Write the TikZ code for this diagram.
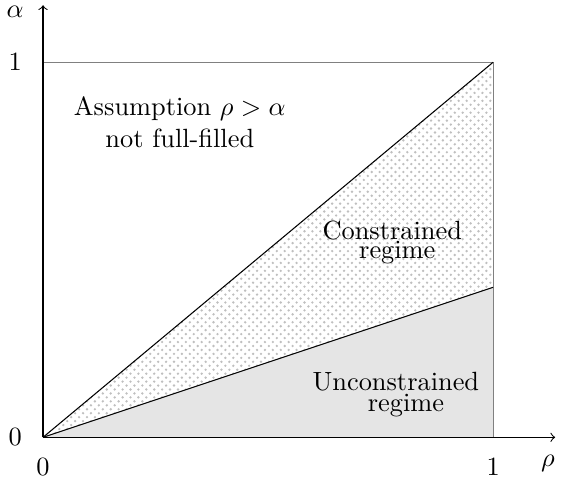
\documentclass[tikz,border=0pt]{standalone}
\usetikzlibrary{patterns}
\begin{document}
\begin{tikzpicture}[x=6cm,y=5cm]
\useasboundingbox (-0.0956,-0.115) rectangle (1.162,1.166);
\coordinate (O) at (0,0);
\coordinate (A) at (1,0.4);
\coordinate (B) at (1,1);
\coordinate (C) at (0,1);
\coordinate (D) at (1,0);
\coordinate (xend) at (1.138,0);
\coordinate (yend) at (0,1.152);
\fill[gray!20] (O) -- (A) -- (D) -- cycle;
\fill[pattern=crosshatch dots,pattern color=gray!50] (O) -- (B) -- (A) -- cycle;
\draw[gray] (C) -- (B) -- (D);
\draw (O) -- (B);
\draw (O) -- (A);
\draw[->] (O) -- (xend);
\draw[->] (O) -- (yend);
\node (alab) at (-0.062,1.134) {\(\alpha\)};
\node (rlab) at (1.122,-0.07) {\(\rho\)};
\node (y1) at (-0.062,1) {\(1\)};
\node (y0) at (-0.062,0) {\(0\)};
\node (x0) at (0,-0.078) {\(0\)};
\node (x1) at (1,-0.078) {\(1\)};
\node[align=center] (assum) at (0.304,0.84) {Assumption \(\rho>\alpha\)\\not full-filled};
\node[align=center] (cons) at (0.776,0.519) {Constrained\\[-4.7pt]\hspace*{3.8pt}regime};
\node[align=center] (uncons) at (0.784,0.115) {Unconstrained\\[-4.1pt]\hspace*{7.6pt}regime};
\end{tikzpicture}
\end{document}
